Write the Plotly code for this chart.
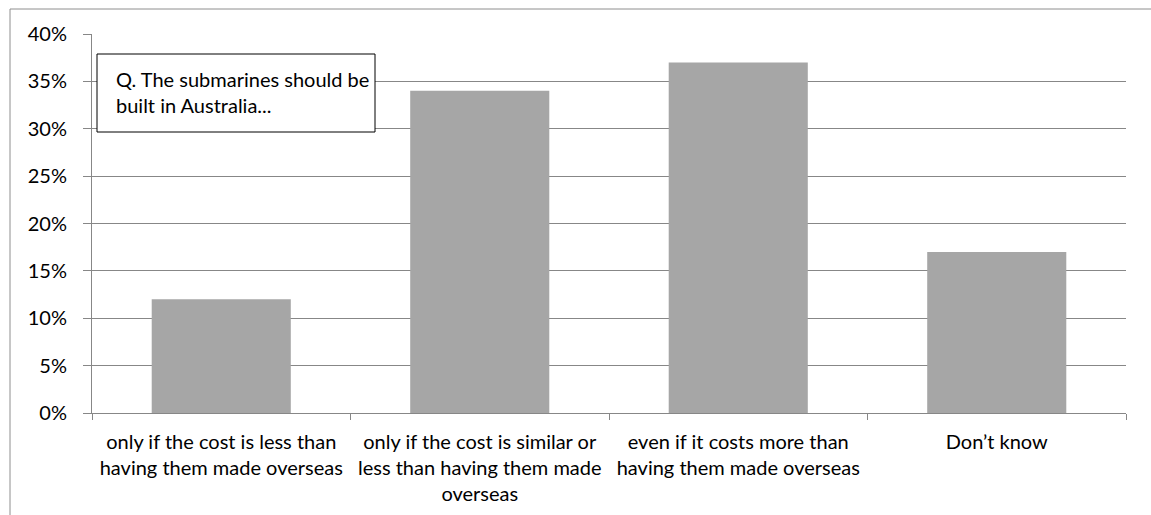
import plotly.graph_objects as go

# Survey responses: "The submarines should be built in Australia..."
categories = [
    "only if the cost is less than<br>having them made overseas",
    "only if the cost is similar or<br>less than having them made<br>overseas",
    "even if it costs more than<br>having them made overseas",
    "Don\u2019t know",
]
shares = [0.12, 0.34, 0.37, 0.17]
y_ticks = [0, 0.05, 0.10, 0.15, 0.20, 0.25, 0.30, 0.35, 0.40]
y_tick_text = ["0%", "5%", "10%", "15%", "20%", "25%", "30%", "35%", "40%"]

W, H = 1151, 515
L, R, T, B = 92, 25, 34, 102
PW, PH = W - L - R, H - T - B

def px_x(px):
    return (px - L) / PW

def px_y(py):
    return (H - B - py) / PH

FONT = "Lato, Carlito, Calibri, sans-serif"
FS = 20
GRID = "#878787"

fig = go.Figure(
    go.Bar(
        x=categories,
        y=shares,
        marker=dict(color="#A6A6A6", line=dict(width=0)),
        hoverinfo="skip",
    )
)

fig.update_layout(
    width=W,
    height=H,
    margin=dict(l=L, r=R, t=T, b=B),
    paper_bgcolor="white",
    plot_bgcolor="white",
    bargap=0.462,
    showlegend=False,
    font=dict(family=FONT, size=FS, color="#000000"),
    xaxis=dict(
        showgrid=False,
        showline=True,
        linecolor=GRID,
        linewidth=1,
        ticks="outside",
        ticklen=6,
        tickcolor=GRID,
        tickson="boundaries",
        ticklabelstandoff=11,
        tickfont=dict(family=FONT, size=FS, color="#000000"),
        automargin=False,
        fixedrange=True,
    ),
    yaxis=dict(
        range=[0, 0.40],
        tickvals=y_ticks,
        ticktext=y_tick_text,
        showgrid=True,
        gridcolor=GRID,
        gridwidth=1,
        showline=True,
        linecolor=GRID,
        linewidth=1,
        ticks="outside",
        ticklen=8,
        tickcolor=GRID,
        zeroline=False,
        ticklabelstandoff=12,
        tickfont=dict(family=FONT, size=FS, color="#000000"),
        automargin=False,
        fixedrange=True,
    ),
    shapes=[
        # outer chart frame: left and top edges
        dict(
            type="line", xref="paper", yref="paper",
            x0=px_x(10), x1=px_x(10), y0=px_y(560), y1=px_y(9),
            line=dict(color="#8E8E8E", width=1), layer="above",
        ),
        dict(
            type="line", xref="paper", yref="paper",
            x0=px_x(10), x1=px_x(1200), y0=px_y(9), y1=px_y(9),
            line=dict(color="#8E8E8E", width=1), layer="above",
        ),
        # question text box
        dict(
            type="rect", xref="paper", yref="paper",
            x0=px_x(97), x1=px_x(375), y0=px_y(132), y1=px_y(54),
            line=dict(color="#000000", width=1), fillcolor="white",
            layer="above",
        ),
    ],
    annotations=[
        dict(
            xref="paper", yref="paper",
            x=px_x(114), y=px_y(65),
            xanchor="left", yanchor="top",
            align="left",
            showarrow=False,
            text="Q. The submarines should be<br>built in Australia...",
            font=dict(family=FONT, size=FS, color="#000000"),
        )
    ],
)

fig.write_html("out.html")
